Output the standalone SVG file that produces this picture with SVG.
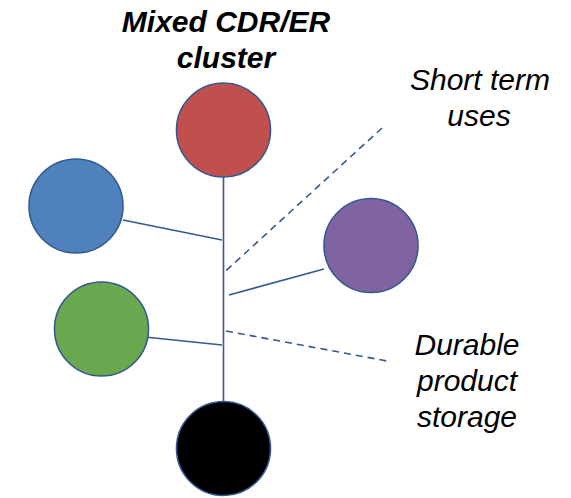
<svg xmlns="http://www.w3.org/2000/svg" width="571" height="498" viewBox="0 0 571 498">
<style>
.node{stroke:#35598f;stroke-width:1.6}
.ln{stroke:#35598f;stroke-width:1.6;fill:none}
.dash{stroke-dasharray:7,5}
.t{font-family:"Liberation Sans",Arial,sans-serif;font-size:30px;font-style:italic;fill:#000;text-anchor:middle}
.b{font-weight:bold}
</style>
<rect width="571" height="498" fill="#fff"/>
<g id="connectors">
<line class="ln" x1="223.5" y1="177" x2="223.5" y2="402"/>
<line class="ln" x1="123" y1="220" x2="222" y2="240"/>
<line class="ln dash" x1="382" y1="128" x2="223.5" y2="273"/>
<line class="ln" x1="324" y1="269" x2="229" y2="295"/>
<line class="ln" x1="145" y1="337" x2="222" y2="345"/>
<line class="ln dash" x1="226" y1="331" x2="387" y2="361"/>
</g>
<g id="red"><circle class="node" cx="223.5" cy="130" r="47" fill="#C0504D"/></g>
<g id="blue"><circle class="node" cx="76" cy="206" r="47" fill="#4F81BD"/></g>
<g id="purple"><circle class="node" cx="371" cy="245.5" r="47" fill="#8064A2"/></g>
<g id="green"><circle class="node" cx="101.5" cy="329" r="47" fill="#6AA84F"/></g>
<g id="black"><circle class="node" cx="223.5" cy="448.5" r="47" fill="#000"/></g>
<g id="title">
<text class="t b" x="226" y="32">Mixed CDR/ER</text>
<text class="t b" x="226" y="68">cluster</text>
</g>
<g id="short">
<text class="t" x="480" y="90">Short term</text>
<text class="t" x="479" y="126">uses</text>
</g>
<g id="durable">
<text class="t" x="467" y="355">Durable</text>
<text class="t" x="467" y="391">product</text>
<text class="t" x="467" y="427">storage</text>
</g>
</svg>
